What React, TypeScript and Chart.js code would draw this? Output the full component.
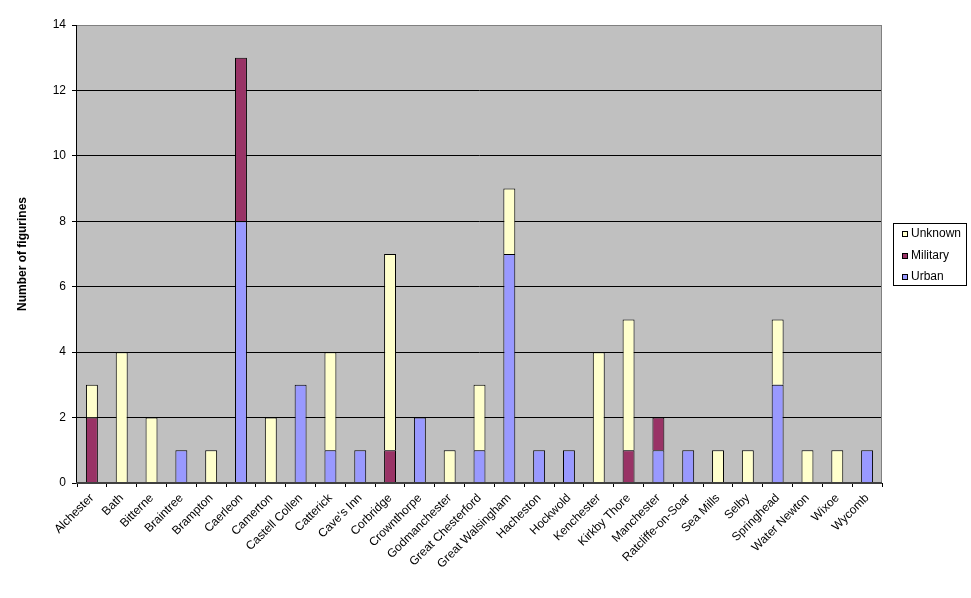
import React, { useEffect, useRef } from "react";
import { Chart, registerables } from "chart.js";

Chart.register(...registerables);

const categories = [
  "Alchester", "Bath", "Bitterne", "Braintree", "Brampton", "Caerleon", "Camerton",
  "Castell Collen", "Catterick", "Cave's Inn", "Corbridge", "Crownthorpe", "Godmanchester",
  "Great Chesterford", "Great Walsingham", "Hacheston", "Hockwold", "Kenchester",
  "Kirkby Thore", "Manchester", "Ratcliffe-on-Soar", "Sea Mills", "Selby", "Springhead",
  "Water Newton", "Wixoe", "Wycomb",
];
const urban = [0, 0, 0, 1, 0, 8, 0, 3, 1, 1, 0, 2, 0, 1, 7, 1, 1, 0, 0, 1, 1, 0, 0, 3, 0, 0, 1];
const military = [2, 0, 0, 0, 0, 5, 0, 0, 0, 0, 1, 0, 0, 0, 0, 0, 0, 0, 1, 1, 0, 0, 0, 0, 0, 0, 0];
const unknown = [1, 4, 2, 0, 1, 0, 2, 0, 3, 0, 6, 0, 1, 2, 2, 0, 0, 4, 4, 0, 0, 1, 1, 2, 1, 1, 0];
const yMax = 14;
const yStep = 2;
const yTitle = "Number of figurines";

const FONT = "'Liberation Sans', Arial, sans-serif";

const plotPlugin = {
  id: "plotDecor",
  beforeDraw(chart: any) {
    const { ctx, chartArea: a } = chart;
    ctx.save();
    ctx.fillStyle = "#C0C0C0";
    ctx.fillRect(a.left, a.top, a.right - a.left, a.bottom - a.top);
    ctx.restore();
  },
  afterDraw(chart: any) {
    const { ctx, chartArea: a } = chart;
    ctx.save();
    ctx.strokeStyle = "#808080";
    ctx.lineWidth = 1;
    ctx.beginPath();
    ctx.moveTo(a.left, a.top + 0.5);
    ctx.lineTo(a.right - 0.5, a.top + 0.5);
    ctx.lineTo(a.right - 0.5, a.bottom);
    ctx.stroke();
    ctx.strokeStyle = "#000";
    ctx.beginPath();
    ctx.moveTo(a.left - 0.5, a.top);
    ctx.lineTo(a.left - 0.5, a.bottom);
    ctx.stroke();
    ctx.strokeStyle = "#404040";
    ctx.lineWidth = 2;
    ctx.beginPath();
    ctx.moveTo(a.left - 1, a.bottom);
    ctx.lineTo(a.right, a.bottom);
    ctx.stroke();

    const lx = 893, ly = 223, lw = 74, lh = 63;
    ctx.fillStyle = "#fff";
    ctx.fillRect(lx, ly, lw, lh);
    ctx.strokeStyle = "#000";
    ctx.lineWidth = 1;
    ctx.strokeRect(lx + 0.5, ly + 0.5, lw - 1, lh - 1);
    const items = chart.data.datasets.slice().reverse();
    ctx.font = `12px ${FONT}`;
    ctx.textBaseline = "middle";
    ctx.textAlign = "left";
    items.forEach((ds: any, i: number) => {
      const cy = ly + 11 + i * 21.5;
      ctx.fillStyle = ds.backgroundColor;
      ctx.fillRect(902, Math.round(cy) - 3, 6, 6);
      ctx.strokeStyle = "#000";
      ctx.strokeRect(902.5, Math.round(cy) - 2.5, 5, 5);
      ctx.fillStyle = "#000";
      ctx.fillText(ds.label, 911, cy);
    });
    ctx.restore();
  },
};

export default function App() {
  const ref = useRef<HTMLCanvasElement | null>(null);
  useEffect(() => {
    if (!ref.current) return;
    const mk = (label: string, data: number[], color: string) => ({
      label,
      data: data.map((v) => (v === 0 ? null : v)),
      backgroundColor: color,
      borderColor: "#000",
      borderWidth: 1,
      borderSkipped: "start",
      categoryPercentage: 1,
      barPercentage: 0.4,
    });
    const chart = new Chart(ref.current, {
      type: "bar",
      data: {
        labels: categories,
        datasets: [
          mk("Urban", urban, "#9999FF"),
          mk("Military", military, "#993366"),
          mk("Unknown", unknown, "#FFFFCC"),
        ],
      },
      options: {
        responsive: false,
        animation: false,
        layout: { padding: { top: 25, right: 89, left: 0, bottom: 0 } },
        plugins: { legend: { display: false }, tooltip: { enabled: false } },
        scales: {
          x: {
            stacked: true,
            grid: {
              display: true,
              drawOnChartArea: false,
              drawTicks: true,
              tickLength: 4,
              color: "#000",
              offset: true,
            },
            border: { display: false },
            ticks: {
              color: "#000",
              font: { family: FONT, size: 12 },
              minRotation: 45,
              maxRotation: 45,
              autoSkip: false,
              padding: 4,
            },
            afterFit: (s: any) => {
              s.height = 115;
            },
          },
          y: {
            stacked: true,
            min: 0,
            max: yMax,
            grid: {
              color: (c: any) => (c.tick && c.tick.value === yMax ? "#808080" : "#000"),
              tickColor: "#000",
              tickLength: 5,
              drawTicks: true,
            },
            border: { display: false },
            ticks: {
              stepSize: yStep,
              color: "#000",
              font: { family: FONT, size: 12 },
              padding: 6,
            },
            title: {
              display: true,
              text: yTitle,
              color: "#000",
              font: { family: FONT, size: 12, weight: "bold" },
              padding: { top: 15, bottom: 0 },
            },
            afterFit: (s: any) => {
              s.width = 77;
            },
          },
        },
      },
      plugins: [plotPlugin],
    } as any);
    return () => chart.destroy();
  }, []);
  return (
    <div style={{ position: "absolute", left: 0, top: 0, width: 971, height: 598, background: "#fff" }}>
      <canvas ref={ref} width={971} height={598} style={{ width: 971, height: 598 }} />
    </div>
  );
}
